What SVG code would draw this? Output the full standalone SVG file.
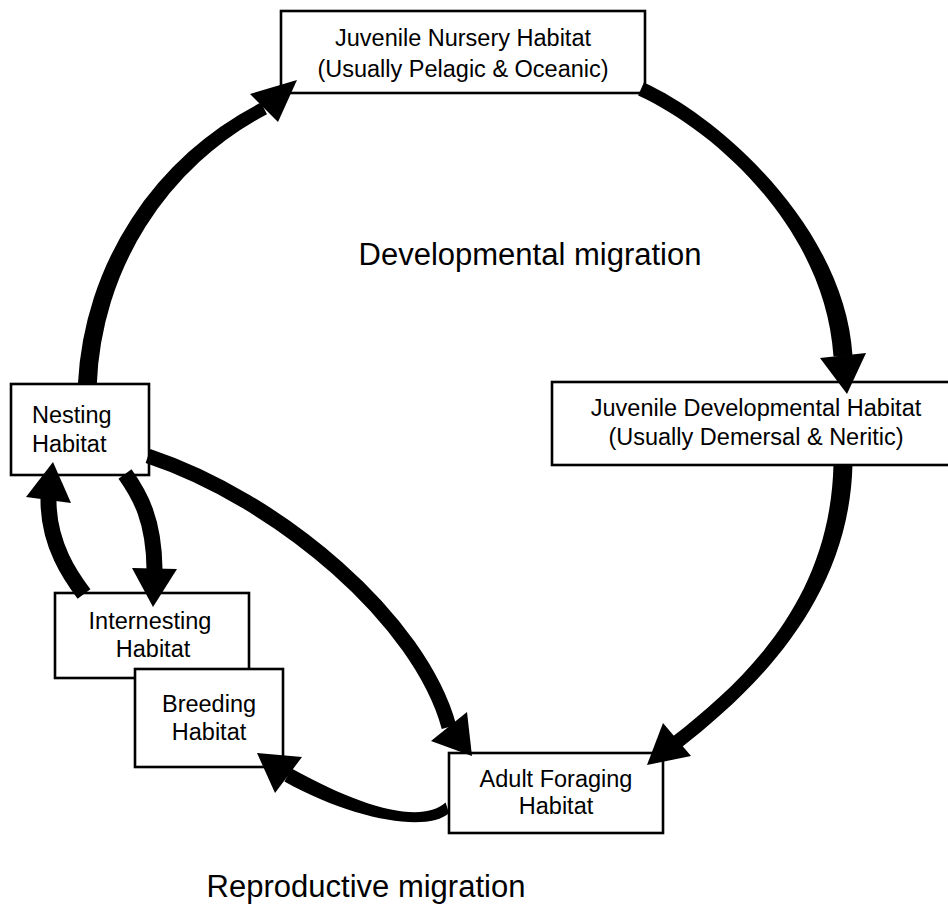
<svg xmlns="http://www.w3.org/2000/svg" width="948" height="910" viewBox="0 0 948 910">
<style>
.box{fill:#fff;stroke:#000;stroke-width:2.6}
.lbl{font-family:"Liberation Sans",Arial,sans-serif;font-size:23.5px;fill:#000;text-anchor:middle}
.big{font-family:"Liberation Sans",Arial,sans-serif;font-size:31px;fill:#000;text-anchor:middle}
.flow{fill:none;stroke:#000;stroke-linecap:butt}
.band{fill:#000;stroke:none}
.head{fill:#000;stroke:none}
</style>
<rect width="948" height="910" fill="#fff"/>
<g id="nursery">
<rect class="box" x="281" y="11" width="364" height="82"/>
<text class="lbl" x="463" y="46">Juvenile Nursery Habitat</text>
<text class="lbl" x="463" y="77">(Usually Pelagic &amp; Oceanic)</text>
</g>
<g id="developmental">
<rect class="box" x="552" y="382" width="410" height="83"/>
<text class="lbl" x="756" y="416">Juvenile Developmental Habitat</text>
<text class="lbl" x="756" y="445">(Usually Demersal &amp; Neritic)</text>
</g>
<g id="nesting">
<rect class="box" x="11" y="384" width="138" height="91"/>
<text class="lbl" x="32" y="423" style="text-anchor:start">Nesting</text>
<text class="lbl" x="32" y="452" style="text-anchor:start">Habitat</text>
</g>
<g id="internesting">
<rect class="box" x="55" y="593" width="194" height="85"/>
<text class="lbl" x="150" y="629">Internesting</text>
<text class="lbl" x="153" y="657">Habitat</text>
</g>
<g id="breeding">
<rect class="box" x="135" y="669" width="148" height="98"/>
<text class="lbl" x="209" y="712">Breeding</text>
<text class="lbl" x="209" y="740">Habitat</text>
</g>
<g id="adult">
<rect class="box" x="449" y="753" width="214" height="80"/>
<text class="lbl" x="556" y="787">Adult Foraging</text>
<text class="lbl" x="556" y="814">Habitat</text>
</g>
<g id="labels">
<text class="big" x="530" y="265">Developmental migration</text>
<text class="big" x="366" y="897">Reproductive migration</text>
</g>
<g id="connectors">
<path class="band" d="M77.9,384 A335,335 0 0 1 261,102.6 L267,114.2 A319,319 0 0 0 96.8,384.6 Z"/>
<polygon class="head" points="250,94 297,80 278,122"/>
<path class="band" d="M643.9,82.6 C722.9,118.6 844.5,229.4 852.5,355.4 L833.5,356.6 C825.5,230.6 717.1,131.4 638.1,95.4 Z"/>
<polygon class="head" points="820,358 847,394 866,353"/>
<path class="band" d="M833.5,464 C830.5,599.8 745.7,679.5 672.7,736.5 L681.3,747.5 C754.3,690.5 849.5,600.2 852.5,464 Z"/>
<polygon class="head" points="663,723 647,765 691,756"/>
<path class="flow" style="stroke-width:15" d="M148,456 C280,500 420,620 449,727"/>
<polygon class="head" points="431,741 472,756 467,712"/>
<path class="band" d="M445.6,802.6 C421.4,823.9 363.6,808.4 291.6,768.4 L284.4,781.6 C356.4,821.6 428.6,832.1 449,813 Z"/>
<polygon class="head" points="302,757 257,753 275,793"/>
<path class="flow" style="stroke-width:16" d="M125,474 C140,495 154,520 154.5,569"/>
<polygon class="head" points="132,568 153,607 177,569"/>
<path class="flow" style="stroke-width:16" d="M84,594 C72,578 48,545 48.5,499"/>
<polygon class="head" points="26,497 53,462 71,503"/>
</g>
</svg>
